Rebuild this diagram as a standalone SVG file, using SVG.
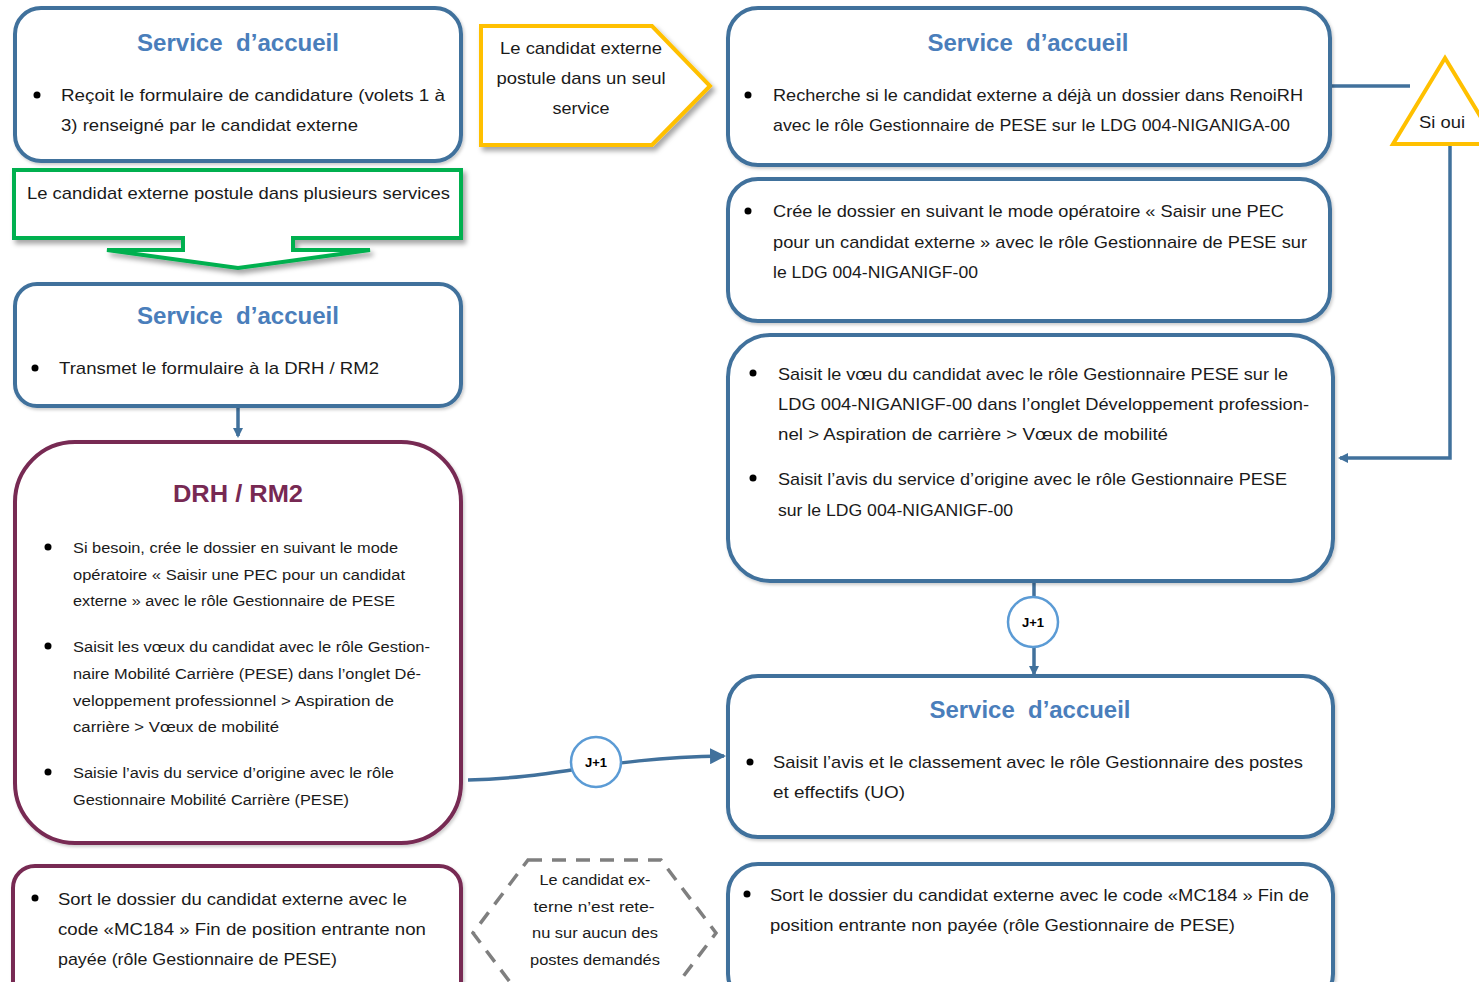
<svg xmlns="http://www.w3.org/2000/svg" width="1479" height="982" viewBox="0 0 1479 982">
<defs>
<style>
.bx{fill:#fff;stroke:#41719C;stroke-width:4}
.mr{fill:#fff;stroke:#772953;stroke-width:4}
.t{font-family:"Liberation Sans",Arial,sans-serif;font-size:17px;fill:#1a1a1a}
.ts{font-family:"Liberation Sans",Arial,sans-serif;font-size:15.5px;fill:#1a1a1a}
.ti{font-family:"Liberation Sans",Arial,sans-serif;font-size:24px;font-weight:bold;fill:#4A7EBB;text-anchor:middle}
.tm{font-family:"Liberation Sans",Arial,sans-serif;font-size:24px;font-weight:bold;fill:#772953;text-anchor:middle}
.c{text-anchor:middle}
.con{fill:none;stroke:#41719C;stroke-width:3.5}
.jc{fill:#fff;stroke:#5B9BD5;stroke-width:2.5}
.jt{font-family:"Liberation Sans",Arial,sans-serif;font-size:13px;font-weight:bold;fill:#000;text-anchor:middle}
</style>
<filter id="sh" x="-10%" y="-10%" width="130%" height="140%">
<feDropShadow dx="3" dy="4" stdDeviation="2.5" flood-color="#000" flood-opacity="0.35"/>
</filter>
<filter id="sh2" x="-10%" y="-10%" width="130%" height="140%">
<feDropShadow dx="1.5" dy="2" stdDeviation="1.5" flood-color="#000" flood-opacity="0.2"/>
</filter>
<marker id="ar" markerWidth="10" markerHeight="10" refX="8" refY="5" orient="auto" markerUnits="userSpaceOnUse" viewBox="0 0 10 10">
<path d="M0,0 L10,5 L0,10 z" fill="#41719C"/>
</marker>
<marker id="arL" markerWidth="16" markerHeight="16" refX="14" refY="8" orient="auto" markerUnits="userSpaceOnUse" viewBox="0 0 16 16">
<path d="M0,0 L16,8 L0,16 z" fill="#41719C"/>
</marker>
</defs>

<g id="connectors">
<path class="con" d="M238,406 L238,436" stroke-width="3" marker-end="url(#ar)"/>
<path class="con" d="M1330,86 L1410,86"/>
<path class="con" d="M1450,144 L1450,458 L1340,458" marker-end="url(#ar)"/>
<path class="con" d="M1034,583 L1034,674" stroke-width="3.5" marker-end="url(#ar)"/>
<path class="con" d="M468,780 C560,778 600,758 724,756" stroke-width="5" marker-end="url(#arL)"/>
</g>

<g id="n1" filter="url(#sh2)">
<rect class="bx" x="15" y="8" width="446" height="153" rx="26"/>
</g>
<g id="n1t">
<text class="ti" x="238" y="51" textLength="202" lengthAdjust="spacingAndGlyphs">Service&#160; d’accueil</text>
<circle cx="37" cy="95" r="3.5" fill="#000"/>
<text class="t" x="61" y="101" textLength="384" lengthAdjust="spacingAndGlyphs">Reçoit le formulaire de candidature (volets 1 à</text>
<text class="t" x="61" y="131" textLength="297" lengthAdjust="spacingAndGlyphs">3) renseigné par le candidat externe</text>
</g>

<g id="n2">
<path d="M14,170 L461,170 L461,238 L293,238 L293,250 L370,250 L238,268 L107,250 L183,250 L183,238 L14,238 Z" fill="#fff" stroke="#00B050" stroke-width="4" stroke-linejoin="miter" filter="url(#sh)"/>
<text class="t" x="27" y="199" textLength="423" lengthAdjust="spacingAndGlyphs">Le candidat externe postule dans plusieurs services</text>
</g>

<g id="n3">
<path d="M481,26 L652,26 L710,86 L652,145 L481,145 Z" fill="#fff" stroke="#FFC000" stroke-width="4" filter="url(#sh)"/>
<text class="t c" x="581" y="54" textLength="162" lengthAdjust="spacingAndGlyphs">Le candidat externe</text>
<text class="t c" x="581" y="84" textLength="169" lengthAdjust="spacingAndGlyphs">postule dans un seul</text>
<text class="t c" x="581" y="114" textLength="57" lengthAdjust="spacingAndGlyphs">service</text>
</g>

<g id="n4">
<rect class="bx" x="15" y="284" width="446" height="122" rx="22" filter="url(#sh2)"/>
<text class="ti" x="238" y="324" textLength="202" lengthAdjust="spacingAndGlyphs">Service&#160; d’accueil</text>
<circle cx="35" cy="368" r="3.5" fill="#000"/>
<text class="t" x="59" y="374" textLength="320" lengthAdjust="spacingAndGlyphs">Transmet le formulaire à la DRH / RM2</text>
</g>

<g id="n5">
<rect class="mr" x="15" y="442" width="446" height="401" rx="60" filter="url(#sh2)"/>
<text class="tm" x="238" y="502" textLength="130" lengthAdjust="spacingAndGlyphs">DRH / RM2</text>
<circle cx="48" cy="547" r="3.5" fill="#000"/>
<text class="ts" x="73" y="553" textLength="325" lengthAdjust="spacingAndGlyphs">Si besoin, crée le dossier en suivant le mode</text>
<text class="ts" x="73" y="580" textLength="332" lengthAdjust="spacingAndGlyphs">opératoire « Saisir une PEC pour un candidat</text>
<text class="ts" x="73" y="606" textLength="322" lengthAdjust="spacingAndGlyphs">externe » avec le rôle Gestionnaire de PESE</text>
<circle cx="48" cy="646" r="3.5" fill="#000"/>
<text class="ts" x="73" y="652" textLength="357" lengthAdjust="spacingAndGlyphs">Saisit les vœux du candidat avec le rôle Gestion-</text>
<text class="ts" x="73" y="679" textLength="348" lengthAdjust="spacingAndGlyphs">naire Mobilité Carrière (PESE) dans l’onglet Dé-</text>
<text class="ts" x="73" y="706" textLength="321" lengthAdjust="spacingAndGlyphs">veloppement professionnel &gt; Aspiration de</text>
<text class="ts" x="73" y="732" textLength="206" lengthAdjust="spacingAndGlyphs">carrière &gt; Vœux de mobilité</text>
<circle cx="48" cy="772" r="3.5" fill="#000"/>
<text class="ts" x="73" y="778" textLength="321" lengthAdjust="spacingAndGlyphs">Saisie l’avis du service d’origine avec le rôle</text>
<text class="ts" x="73" y="805" textLength="276" lengthAdjust="spacingAndGlyphs">Gestionnaire Mobilité Carrière (PESE)</text>
</g>

<g id="n6">
<rect class="mr" x="13" y="866" width="448" height="140" rx="22" filter="url(#sh2)"/>
<circle cx="35" cy="898" r="3.5" fill="#000"/>
<text class="t" x="58" y="905" textLength="349" lengthAdjust="spacingAndGlyphs">Sort le dossier du candidat externe avec le</text>
<text class="t" x="58" y="935" textLength="368" lengthAdjust="spacingAndGlyphs">code «MC184 » Fin de position entrante non</text>
<text class="t" x="58" y="965" textLength="279" lengthAdjust="spacingAndGlyphs">payée (rôle Gestionnaire de PESE)</text>
</g>

<g id="n7">
<path d="M528,860 L661,860 L716,933 L661,1006 L528,1006 L473,933 Z" fill="#fff" stroke="#7F7F7F" stroke-width="3.5" stroke-dasharray="14,10"/>
<text class="ts c" x="595" y="885" textLength="111" lengthAdjust="spacingAndGlyphs">Le candidat ex-</text>
<text class="ts c" x="594" y="912" textLength="121" lengthAdjust="spacingAndGlyphs">terne n’est rete-</text>
<text class="ts c" x="595" y="938" textLength="126" lengthAdjust="spacingAndGlyphs">nu sur aucun des</text>
<text class="ts c" x="595" y="965" textLength="130" lengthAdjust="spacingAndGlyphs">postes demandés</text>
</g>

<g id="n8">
<rect class="bx" x="728" y="8" width="602" height="157" rx="30" filter="url(#sh2)"/>
<text class="ti" x="1028" y="51" textLength="201" lengthAdjust="spacingAndGlyphs">Service&#160; d’accueil</text>
<circle cx="748" cy="95" r="3.5" fill="#000"/>
<text class="t" x="773" y="101" textLength="530" lengthAdjust="spacingAndGlyphs">Recherche si le candidat externe a déjà un dossier dans RenoiRH</text>
<text class="t" x="773" y="131" textLength="517" lengthAdjust="spacingAndGlyphs">avec le rôle Gestionnaire de PESE sur le LDG 004-NIGANIGA-00</text>
</g>

<g id="n9">
<rect class="bx" x="728" y="179" width="602" height="142" rx="30" filter="url(#sh2)"/>
<circle cx="748" cy="211" r="3.5" fill="#000"/>
<text class="t" x="773" y="217" textLength="511" lengthAdjust="spacingAndGlyphs">Crée le dossier en suivant le mode opératoire « Saisir une PEC</text>
<text class="t" x="773" y="248" textLength="534" lengthAdjust="spacingAndGlyphs">pour un candidat externe » avec le rôle Gestionnaire de PESE sur</text>
<text class="t" x="773" y="278" textLength="205" lengthAdjust="spacingAndGlyphs">le LDG 004-NIGANIGF-00</text>
</g>

<g id="n10">
<rect class="bx" x="728" y="335" width="605" height="246" rx="42" filter="url(#sh2)"/>
<circle cx="753" cy="373" r="3.5" fill="#000"/>
<text class="t" x="778" y="380" textLength="510" lengthAdjust="spacingAndGlyphs">Saisit le vœu du candidat avec le rôle Gestionnaire PESE sur le</text>
<text class="t" x="778" y="410" textLength="531" lengthAdjust="spacingAndGlyphs">LDG 004-NIGANIGF-00 dans l’onglet Développement profession-</text>
<text class="t" x="778" y="440" textLength="390" lengthAdjust="spacingAndGlyphs">nel &gt; Aspiration de carrière &gt; Vœux de mobilité</text>
<circle cx="753" cy="478" r="3.5" fill="#000"/>
<text class="t" x="778" y="485" textLength="509" lengthAdjust="spacingAndGlyphs">Saisit l’avis du service d’origine avec le rôle Gestionnaire PESE</text>
<text class="t" x="778" y="516" textLength="235" lengthAdjust="spacingAndGlyphs">sur le LDG 004-NIGANIGF-00</text>
</g>

<g id="n11">
<rect class="bx" x="728" y="676" width="605" height="161" rx="30" filter="url(#sh2)"/>
<text class="ti" x="1030" y="718" textLength="201" lengthAdjust="spacingAndGlyphs">Service&#160; d’accueil</text>
<circle cx="750" cy="762" r="3.5" fill="#000"/>
<text class="t" x="773" y="768" textLength="530" lengthAdjust="spacingAndGlyphs">Saisit l’avis et le classement avec le rôle Gestionnaire des postes</text>
<text class="t" x="773" y="798" textLength="132" lengthAdjust="spacingAndGlyphs">et effectifs (UO)</text>
</g>

<g id="n12">
<rect class="bx" x="728" y="864" width="605" height="140" rx="30" filter="url(#sh2)"/>
<circle cx="747" cy="894" r="3.5" fill="#000"/>
<text class="t" x="770" y="901" textLength="539" lengthAdjust="spacingAndGlyphs">Sort le dossier du candidat externe avec le code «MC184 » Fin de</text>
<text class="t" x="770" y="931" textLength="465" lengthAdjust="spacingAndGlyphs">position entrante non payée (rôle Gestionnaire de PESE)</text>
</g>

<g id="n13">
<path d="M1445,58 L1497,144 L1393,144 Z" fill="#fff" stroke="#FFC000" stroke-width="4"/>
<text class="t c" x="1442" y="128" textLength="46" lengthAdjust="spacingAndGlyphs">Si oui</text>
</g>

<g id="n14">
<circle class="jc" cx="1033" cy="622" r="25"/>
<text class="jt" x="1033" y="627">J+1</text>
</g>

<g id="n15">
<circle class="jc" cx="596" cy="762" r="25"/>
<text class="jt" x="596" y="767">J+1</text>
</g>
</svg>
